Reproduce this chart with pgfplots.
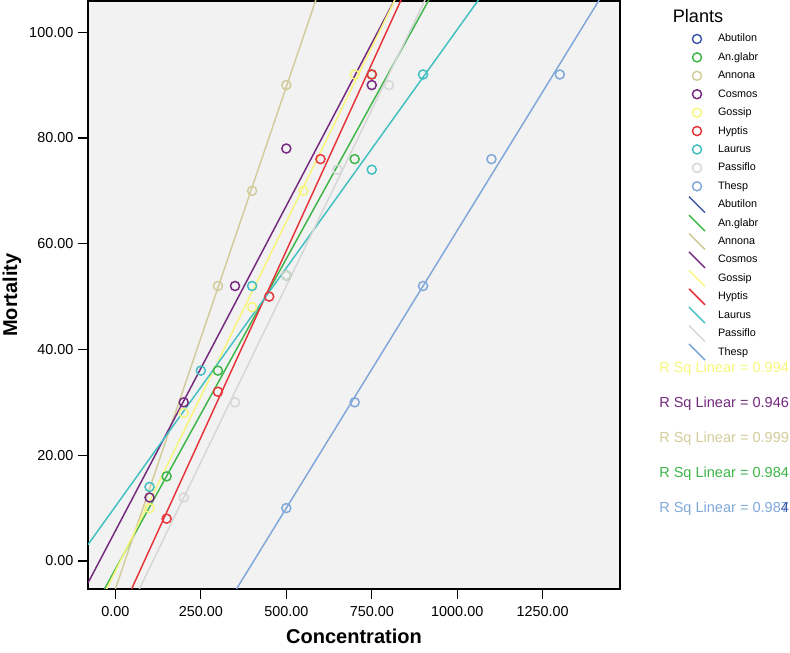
\documentclass[border=0pt]{standalone}
\usepackage{pgfplots}
\pgfplotsset{compat=1.18}
\usepackage{fontspec}
\setmainfont{Liberation Sans}
\definecolor{cAbut}{HTML}{3E58AC}
\definecolor{cAng}{HTML}{3DB548}
\definecolor{cAnn}{HTML}{D2CC9A}
\definecolor{cCos}{HTML}{74287E}
\definecolor{cGos}{HTML}{F8F67A}
\definecolor{cHyp}{HTML}{E7343B}
\definecolor{cLau}{HTML}{42BFC1}
\definecolor{cPas}{HTML}{D6D6D6}
\definecolor{cThe}{HTML}{7FA8D9}
\definecolor{bgc}{HTML}{F2F2F2}
\pgfplotsset{
  mkstyle/.style={only marks, mark=o, mark size=3.4pt, mark options={line width=1.1pt},
    legend image code/.code={\path[draw=none,fill=none] (0pt,-3.75pt) rectangle (12pt,3.75pt); \draw[##1] plot coordinates {(6pt,0pt)};}},
  lnstyle/.style={no marks, line width=1.1pt,
    legend image code/.code={\path[draw=none,fill=none] (0pt,-3.75pt) rectangle (12pt,3.75pt); \draw[##1,overlay] (0pt,6pt) -- (12pt,-6pt);}},
}
\begin{document}
\begin{tikzpicture}
\useasboundingbox (0,0) rectangle (592.5pt,489.75pt);
\begin{axis}[
  at={(66pt,48pt)}, anchor=south west,
  scale only axis, width=399pt, height=441pt,
  xmin=-80, xmax=1476, ymin=-5.3, ymax=105.9,
  axis background/.style={fill=bgc},
  axis line style={line width=1.1pt, black},
  xtick={0,250,...,1250}, ytick={0,20,...,100},
  tick pos=left, tick align=outside, major tick length=7.5pt,
  tick style={line width=0.9pt, black},
  /pgf/number format/.cd, fixed, fixed zerofill, precision=2, 1000 sep={}, assume math mode=true, /pgfplots/.cd,
  tick label style={font=\fontsize{10.8}{12}\selectfont},
  xticklabel style={yshift=-2pt},
  xlabel={Concentration}, ylabel={Mortality},
  xlabel style={at={(rel axis cs:0.5,0)}, anchor=center, yshift=-35.25pt, font=\fontsize{15}{18}\selectfont\bfseries},
  ylabel style={at={(rel axis cs:0,0.5)}, anchor=center, yshift=57pt, font=\fontsize{15}{18}\selectfont\bfseries},
  legend style={at={(rel axis cs:1.1297,0.9439)}, anchor=north west, draw=none, fill=none,
    inner sep=0pt, outer sep=0pt, font=\fontsize{8.1}{9}\selectfont,
    row sep=6.31pt, column sep=9.75pt,
    nodes={inner sep=0pt, text height=6pt, text depth=1.5pt}},
  legend cell align=left,
]
% markers
\addlegendimage{cAbut, mkstyle}
\addlegendentry{Abutilon}
\addplot[cAng, mkstyle] coordinates {(150,16) (300,36) (500,54) (700,76) (750,92)};
\addlegendentry{An.glabr}
\addplot[cAnn, mkstyle] coordinates {(300,52) (400,70) (500,90)};
\addlegendentry{Annona}
\addplot[cCos, mkstyle] coordinates {(100,12) (200,30) (350,52) (500,78) (750,90)};
\addlegendentry{Cosmos}
\addplot[cGos, mkstyle] coordinates {(100,10) (200,28) (400,48) (550,70) (700,92)};
\addlegendentry{Gossip}
\addplot[cHyp, mkstyle] coordinates {(150,8) (300,32) (450,50) (600,76) (750,92)};
\addlegendentry{Hyptis}
\addplot[cLau, mkstyle] coordinates {(100,14) (250,36) (400,52) (750,74) (900,92)};
\addlegendentry{Laurus}
\addplot[cPas, mkstyle] coordinates {(200,12) (350,30) (500,54) (650,74) (800,90)};
\addlegendentry{Passiflo}
\addplot[cThe, mkstyle] coordinates {(500,10) (700,30) (900,52) (1100,76) (1300,92)};
\addlegendentry{Thesp}
% fit lines
\addlegendimage{cAbut, lnstyle}
\addlegendentry{Abutilon}
\addplot[cAng, lnstyle] coordinates {(-80,-10.95) (1476,171.74)};
\addlegendentry{An.glabr}
\addplot[cAnn, lnstyle] coordinates {(-80,-20.53) (1476,275.11)};
\addlegendentry{Annona}
\addplot[cCos, lnstyle] coordinates {(-80,-4.16) (1476,187.17)};
\addlegendentry{Cosmos}
\addplot[cGos, lnstyle] coordinates {(-80,-12.51) (1476,193.11)};
\addlegendentry{Gossip}
\addplot[cHyp, lnstyle] coordinates {(-80,-23.31) (1476,196.61)};
\addlegendentry{Hyptis}
\addplot[cLau, lnstyle] coordinates {(-80,3.09) (1476,143.44)};
\addlegendentry{Laurus}
\addplot[cPas, lnstyle] coordinates {(-80,-25.33) (1476,182.13)};
\addlegendentry{Passiflo}
\addplot[cThe, lnstyle] coordinates {(-80,-50.9) (1476,112.48)};
\addlegendentry{Thesp}
\end{axis}
\node[anchor=center, inner sep=0pt, font=\fontsize{13.6}{16}\selectfont] at (523.5pt,477.75pt) {Plants};
\begin{scope}[every node/.style={anchor=base west, inner sep=0pt, font=\fontsize{10.9}{13}\selectfont}]
\node[text=cGos] at (494.25pt,210.6pt) {R Sq Linear = 0.994};
\node[text=cCos] at (494.25pt,184.35pt) {R Sq Linear = 0.946};
\node[text=cAnn] at (494.25pt,158.1pt) {R Sq Linear = 0.999};
\node[text=cAng] at (494.25pt,131.85pt) {R Sq Linear = 0.984};
\node[text=cThe] at (494.25pt,105.6pt) {R Sq Linear = 0.987};
\node[text=cAbut] at (494.25pt,105.6pt) {\phantom{R Sq Linear = 0.98}4};
\end{scope}
\end{tikzpicture}
\end{document}
